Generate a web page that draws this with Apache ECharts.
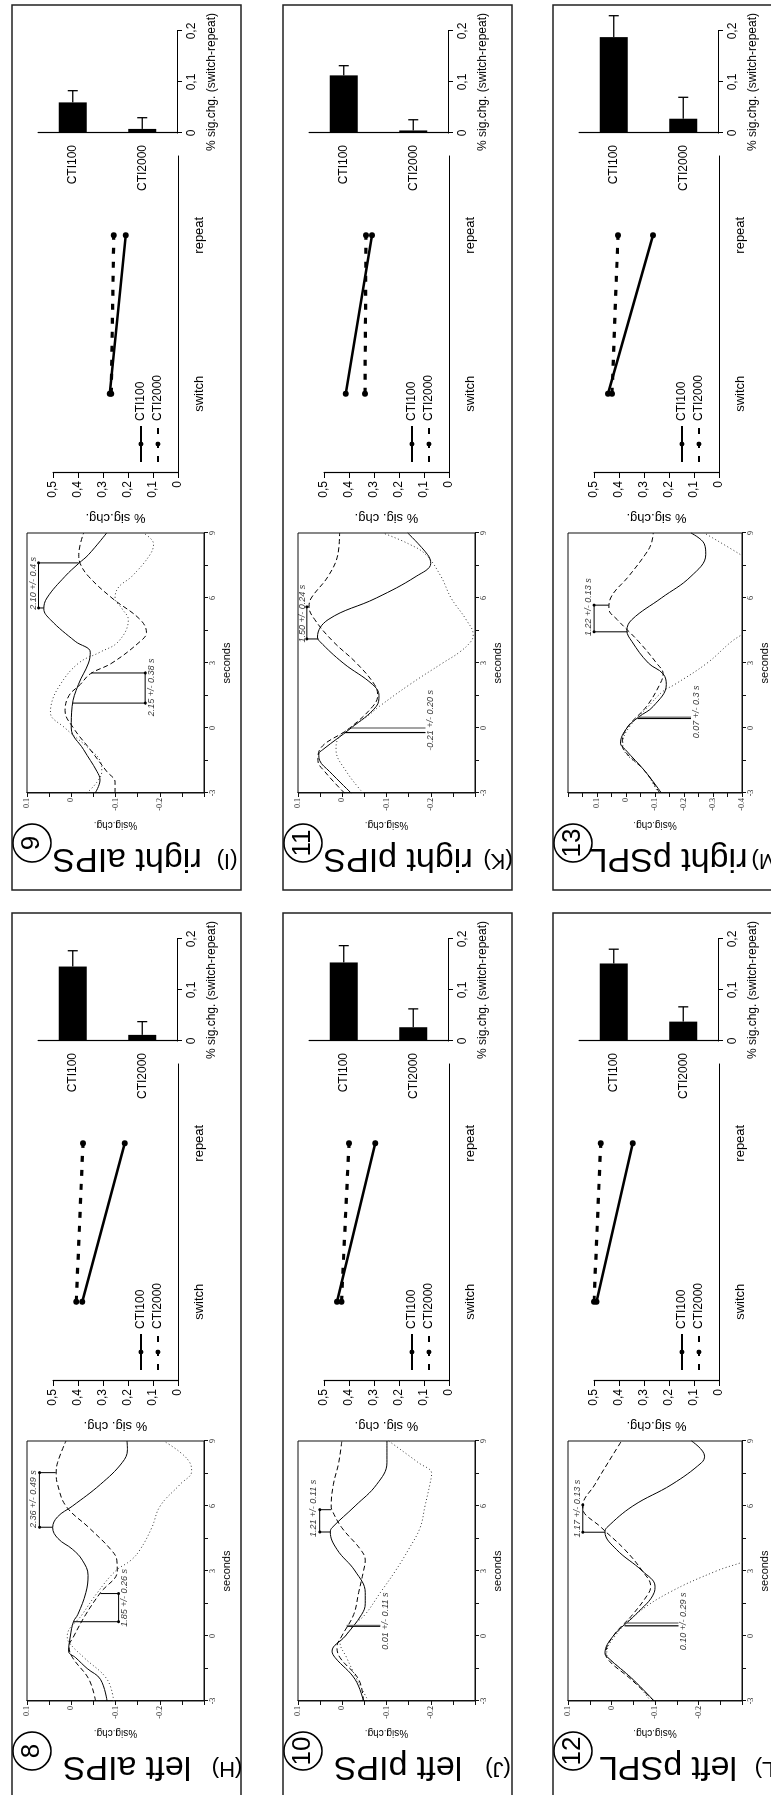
<!DOCTYPE html>
<html>
<head>
<meta charset="utf-8">
<title>Switch vs. repeat responses, CTI100 / CTI2000</title>
<script src="https://cdn.jsdelivr.net/npm/echarts@6/dist/echarts.min.js"></script>
<style>
html, body { margin:0; padding:0; width:771px; height:1795px; overflow:hidden; background:#fff; }
#frame { position:absolute; left:0; top:0; width:771px; height:1795px; overflow:hidden; }
#chart { position:absolute; left:0; top:0; width:1795px; height:771px; transform-origin:0 0; transform:translate(0px,1795px) rotate(-90deg); }
</style>
</head>
<body>
<div id="frame"><div id="chart"></div></div>
<script>
// ---------------- data ----------------
const panelNumbers = [8, 9, 10, 11, 12, 13];
const regionNames = ['left aIPS', 'right aIPS', 'left pIPS', 'right pIPS', 'left pSPL', 'right pSPL'];
const panelLetters = ['(H)', '(I)', '(J)', '(K)', '(L)', '(M)'];
const conditions = ['switch', 'repeat'];
const barCategories = ['CTI100', 'CTI2000'];
const lineTitles = ['% sig. chg.', '% sig.chg.', '% sig. chg.', '% sig. chg.', '% sig.chg.', '% sig.chg.'];
const barTitle = '% sig.chg. (switch-repeat)';
const tcTitle = '%sig.chg.';
const tcXTitle = 'seconds';

// line plots: [switch, repeat]
const lineCTI100 = [[0.383, 0.213], [0.273, 0.209], [0.448, 0.295], [0.413, 0.308], [0.49, 0.345], [0.444, 0.264]];
const lineCTI2000 = [[0.407, 0.38], [0.267, 0.257], [0.43, 0.40], [0.336, 0.332], [0.5, 0.473], [0.428, 0.404]];

// bar plots: switch-repeat difference [CTI100, CTI2000] and error
const barMeans = [[0.146, 0.012], [0.06, 0.008], [0.154, 0.027], [0.113, 0.005], [0.152, 0.038], [0.188, 0.028]];
const barErrors = [[0.031, 0.026], [0.023, 0.022], [0.033, 0.036], [0.019, 0.021], [0.028, 0.029], [0.042, 0.042]];

// time-course axis ranges
const tcMin = [-0.3, -0.3, -0.3, -0.3, -0.3, -0.4];
const tcMax = [0.1, 0.1, 0.1, 0.1, 0.1, 0.2];
const tcLabelMax = [0.1, 0.1, 0.1, 0.1, 0.1, 0.1];
const tcLabelMin = [-0.2, -0.2, -0.2, -0.2, -0.2, -0.4];

// time courses [seconds, %sig.chg.]
const tcSolid8 = [[-3,-0.081],[-2,-0.066],[-1.5,-0.036],[-1,-0.01],[-0.7,0.006],[0,0.002],[0.66,-0.005],[1,-0.015],[2,-0.033],[2.8,-0.038],[3.5,-0.025],[4,-0.003],[4.5,0.03],[5,0.042],[5.5,0.031],[6,-0.003],[7,-0.066],[8,-0.115],[8.6,-0.127],[9,-0.126]];
const tcDashed8 = [[-3,-0.055],[-2,-0.04],[-1,-0.003],[-0.5,0.005],[0,-0.006],[1,-0.033],[2,-0.066],[3,-0.104],[3.5,-0.103],[4,-0.089],[5,-0.04],[6,0.012],[7,0.031],[7.5,0.034],[8,0.031],[9,0.012]];
const tcDotted8 = [[-3,-0.096],[-2,-0.081],[-1,-0.029],[-0.3,0.005],[0,0.009],[1,-0.025],[2,-0.059],[3,-0.1],[3.5,-0.135],[4,-0.156],[5,-0.182],[6,-0.201],[7,-0.246],[7.6,-0.272],[8,-0.268],[8.5,-0.245],[9,-0.209]];

const tcSolid9 = [[-3,-0.054],[-2.4,-0.065],[-2,-0.058],[-1,-0.028],[0,0.0],[1,-0.002],[2,-0.016],[3,-0.039],[3.5,-0.043],[4,-0.009],[5,0.047],[5.5,0.062],[6,0.055],[7,0.014],[7.6,-0.017],[8,-0.039],[9,-0.08]];
const tcDashed9 = [[-3,-0.099],[-2.5,-0.099],[-2,-0.08],[-1,-0.043],[0,-0.005],[0.8,0.014],[1.5,0.005],[2,-0.02],[2.5,-0.043],[3,-0.092],[4,-0.156],[4.4,-0.17],[5,-0.156],[6,-0.092],[7,-0.039],[7.6,-0.02],[8,-0.017],[9,-0.028]];
const tcDotted9 = [[-3,-0.035],[-2.5,-0.058],[-2,-0.069],[-1.5,-0.065],[-1,-0.043],[0,0.014],[0.7,0.047],[1,0.046],[2,0.025],[3,-0.017],[3.5,-0.065],[4,-0.107],[5,-0.129],[5.5,-0.115],[6,-0.099],[6.5,-0.107],[7,-0.137],[8,-0.178],[8.5,-0.186],[9,-0.163]];

const tcSolid10 = [[-3,-0.048],[-2,-0.029],[-1,0.016],[-0.7,0.023],[0,-0.007],[1,-0.044],[1.5,-0.052],[2,-0.052],[3,-0.029],[4,0.012],[4.8,0.027],[5,0.023],[6,-0.029],[7,-0.078],[8,-0.101],[9,-0.101]];
const tcDashed10 = [[-3,-0.048],[-2,-0.037],[-1,0.005],[-0.5,0.012],[0,0.001],[1,-0.026],[2,-0.037],[3,-0.048],[3.5,-0.052],[4,-0.041],[5,0.001],[5.8,0.023],[6,0.025],[7,0.02],[8,0.008],[9,0.001]];
const tcDotted10 = [[-3,-0.059],[-2,-0.033],[-1,-0.01],[-0.3,0.005],[0,-0.007],[0.5,-0.026],[1,-0.052],[2,-0.086],[3,-0.12],[4,-0.15],[5,-0.176],[6,-0.187],[7,-0.198],[7.5,-0.202],[8,-0.172],[9,-0.105]];

const tcSolid11 = [[-3,-0.02],[-2,0.029],[-1.5,0.051],[-1.2,0.053],[-1,0.044],[0,-0.02],[1,-0.077],[1.5,-0.083],[2,-0.069],[3,-0.002],[4,0.051],[4.2,0.056],[5,0.032],[6,-0.077],[7,-0.167],[7.6,-0.2],[8,-0.193],[9,-0.148]];
const tcDashed11 = [[-3,-0.005],[-2,0.04],[-1.5,0.055],[-1,0.051],[0,-0.017],[1,-0.069],[1.5,-0.08],[2,-0.073],[3,-0.032],[4,0.021],[5,0.062],[5.6,0.075],[6,0.07],[7,0.032],[8,0.01],[9,0.006]];
const tcDotted11 = [[-3,-0.047],[-2,-0.009],[-1,0.014],[-0.5,0.01],[0,-0.017],[0.5,-0.054],[1,-0.084],[2,-0.152],[3,-0.227],[3.5,-0.265],[4,-0.291],[4.3,-0.296],[5,-0.28],[6,-0.246],[7,-0.223],[8,-0.189],[8.5,-0.15],[9,-0.092]];

const tcSolid12 = [[-3,-0.098],[-2,-0.049],[-1,0.008],[-0.8,0.015],[0,-0.004],[1,-0.056],[2,-0.098],[2.3,-0.1],[3,-0.071],[4,-0.011],[4.8,0.015],[5,0.011],[6,-0.049],[7,-0.139],[8,-0.207],[8.3,-0.214],[9,-0.184]];
const tcDashed12 = [[-3,-0.098],[-2,-0.045],[-1,0.011],[-0.8,0.013],[0,-0.004],[1,-0.049],[2,-0.086],[2.3,-0.09],[3,-0.071],[4,-0.03],[5,0.023],[5.9,0.066],[6,0.066],[7,0.038],[8,0.008],[9,-0.023]];
const tcDotted12 = [[-3,-0.09],[-2,-0.049],[-1,0.008],[-0.8,0.011],[0,-0.008],[1,-0.056],[2,-0.132],[3,-0.241],[3.4,-0.3],[4,-0.38],[5,-0.46]];

const tcSolid13 = [[-3,-0.122],[-2,-0.066],[-1,0.002],[-0.7,0.019],[0,-0.003],[0.5,-0.043],[1,-0.094],[2,-0.139],[2.5,-0.128],[3,-0.077],[4,-0.02],[4.5,-0.003],[5,-0.02],[6,-0.122],[7,-0.224],[8,-0.275],[8.5,-0.27],[9,-0.224]];
const tcDashed13 = [[-3,-0.116],[-2,-0.066],[-1,0.008],[-0.7,0.013],[0,-0.003],[1,-0.071],[2,-0.116],[2.5,-0.128],[3,-0.105],[4,-0.043],[5,0.03],[5.5,0.059],[6,0.053],[7,-0.009],[8,-0.066],[8.5,-0.087],[9,-0.094]];
const tcDotted13 = [[-3,-0.111],[-2,-0.066],[-1,0.008],[-0.7,0.011],[0,-0.009],[1,-0.077],[1.7,-0.128],[2,-0.167],[3,-0.28],[4,-0.365],[4.5,-0.42],[6,-0.55],[7.5,-0.45],[8,-0.395],[9,-0.27]];

const tcSolid = [tcSolid8, tcSolid9, tcSolid10, tcSolid11, tcSolid12, tcSolid13];
const tcDashed = [tcDashed8, tcDashed9, tcDashed10, tcDashed11, tcDashed12, tcDashed13];
const tcDotted = [tcDotted8, tcDotted9, tcDotted10, tcDotted11, tcDotted12, tcDotted13];

// latency annotations: [t1, curve value at t1, t2, curve value at t2, bracket value]
const upperBrackets = [[5.02,0.042,7.54,0.035,0.072],[5.54,0.062,7.62,-0.017,0.074],[4.8,0.027,5.83,0.025,0.051],[4.11,0.054,5.59,0.075,0.08],[4.79,0.015,6.05,0.066,0.066],[4.44,-0.005,5.67,0.059,0.11]];
const upperTexts = ['2.36 +/- 0.49 s', '2.10 +/- 0.4 s', '1.21 +/- 0.11 s', '1.50 +/- 0.24 s', '1.17 +/- 0.13 s', '1.22 +/- 0.13 s'];
const upperTextAt = [[4.98,0.085],[5.46,0.086],[4.57,0.065],[3.95,0.09],[4.55,0.079],[4.25,0.13]];
const lowerBrackets = [[0.66,-0.005,1.96,-0.066,-0.107],[1.15,-0.003,2.54,-0.045,-0.167],[0.45,-0.01,0.49,-0.01,-0.086],[-0.21,-0.005,0.0,-0.02,-0.188],[0.47,-0.03,0.6,-0.035,-0.154],[0.44,-0.04,0.5,-0.045,-0.224]];
const lowerTexts = ['1.85 +/- 0.26 s', '2.15 +/- 0.38 s', '0.01 +/- 0.11 s', '-0.21 +/- 0.20 s', '0.10 +/- 0.29 s', '0.07 +/- 0.3 s'];
const lowerTextAt = [[0.43,-0.12],[0.54,-0.182],[-0.63,-0.098],[-1.05,-0.2],[-0.66,-0.165],[-0.47,-0.244]];
const lowerIsDouble = [false, false, true, true, true, true];

// ---------------- layout (page drawn in landscape, then turned) ----------------
const SANS = "'Liberation Sans', Arial, Helvetica, sans-serif";
const SERIF = "'Liberation Serif', 'Times New Roman', serif";
const PW = 885, PH = 229;
const panelOrigins = [[-3, 12], [905, 12], [-3, 283], [905, 283], [-3, 553], [905, 553]];

const commaFmt = v => (Math.abs(v) < 1e-9 ? '0' : v.toFixed(1).replace('.', ','));
const tcValueFmt = i => v => {
  const k = Math.round(v * 100);
  if (k % 10 !== 0) return '';
  if (v > tcLabelMax[i] + 1e-9 || v < tcLabelMin[i] - 1e-9) return '';
  return k === 0 ? '0' : (k / 100).toFixed(1);
};
const tcTimeFmt = v => (Math.round(v * 10) % 30 === 0 ? String(Math.round(v)) : '');

const grid = [], xAxis = [], yAxis = [], series = [], legend = [], graphic = [];
const black = '#000';

panelNumbers.forEach((num, i) => {
  const [u0, v0] = panelOrigins[i];

  // ---- time course ----
  const g0 = grid.length;
  grid.push({ left: u0 + 97, top: v0 + 15, width: 260, height: 177, show: true, borderColor: '#111', borderWidth: 1, backgroundColor: 'transparent' });
  xAxis.push({
    type: 'value', gridIndex: g0, min: -3, max: 9, interval: 1.5,
    axisLine: { show: true, onZero: false, lineStyle: { color: '#111', width: 1 } },
    axisTick: { show: true, length: 4, lineStyle: { color: '#111' } },
    splitLine: { show: false },
    axisLabel: { formatter: tcTimeFmt, fontSize: 8, fontFamily: SERIF, color: '#222', margin: 5, showMinLabel: true, showMaxLabel: true },
    name: tcXTitle, nameLocation: 'middle', nameGap: 17, nameTextStyle: { fontSize: 11, fontFamily: SANS, color: black }
  });
  yAxis.push({
    type: 'value', gridIndex: g0, min: tcMin[i], max: tcMax[i], interval: 0.05,
    axisLine: { show: true, onZero: false, lineStyle: { color: '#111', width: 1 } },
    axisTick: { show: true, length: 4, lineStyle: { color: '#111' } },
    splitLine: { show: false },
    axisLabel: { formatter: tcValueFmt(i), fontSize: 8, fontFamily: SERIF, color: '#222', margin: 5, showMinLabel: true, showMaxLabel: true },
    name: tcTitle, nameLocation: 'middle', nameRotate: 90, nameGap: 27, nameTextStyle: { fontSize: 10, fontFamily: SANS, color: black }
  });
  const tcBase = { type: 'line', xAxisIndex: g0, yAxisIndex: g0, smooth: 0.4, symbol: 'none', silent: true, clip: true, z: 3 };
  series.push(Object.assign({ name: 'solid ' + num, data: tcSolid[i], lineStyle: { color: black, width: 1 } }, tcBase));
  series.push(Object.assign({ name: 'dashed ' + num, data: tcDashed[i], lineStyle: { color: black, width: 1, type: [5, 3] } }, tcBase));
  series.push(Object.assign({ name: 'dotted ' + num, data: tcDotted[i], lineStyle: { color: '#333', width: 1, type: [1, 2.5] } }, tcBase));

  const dot = { symbol: 'circle', symbolSize: 3 };
  const [a1, c1, a2, c2, ab] = upperBrackets[i];
  series.push({ name: 'upper bracket ' + num, type: 'line', xAxisIndex: g0, yAxisIndex: g0, symbol: 'none', silent: true, z: 4,
    lineStyle: { color: black, width: 1 }, itemStyle: { color: black },
    data: [[a1, c1], Object.assign({ value: [a1, ab] }, dot), Object.assign({ value: [a2, ab] }, dot), [a2, c2]] });
  const [b1, d1, b2, d2, bb] = lowerBrackets[i];
  if (lowerIsDouble[i]) {
    series.push({ name: 'lower a ' + num, type: 'line', xAxisIndex: g0, yAxisIndex: g0, symbol: 'none', silent: true, z: 4,
      lineStyle: { color: black, width: 1.2 }, data: [[b1, d1], [b1, bb]] });
    series.push({ name: 'lower b ' + num, type: 'line', xAxisIndex: g0, yAxisIndex: g0, symbol: 'none', silent: true, z: 4,
      lineStyle: { color: '#666', width: 1.2 }, data: [[b2, d2], [b2, bb]] });
  } else {
    series.push({ name: 'lower bracket ' + num, type: 'line', xAxisIndex: g0, yAxisIndex: g0, symbol: 'none', silent: true, z: 4,
      lineStyle: { color: black, width: 1 }, itemStyle: { color: black },
      data: [[b1, d1], Object.assign({ value: [b1, bb] }, dot), Object.assign({ value: [b2, bb] }, dot), [b2, d2]] });
  }
  series.push({ name: 'latency text ' + num, type: 'scatter', xAxisIndex: g0, yAxisIndex: g0, symbolSize: 0, silent: true, z: 5,
    label: { show: true, position: 'right', distance: 0, formatter: p => p.name, fontSize: 9, fontStyle: 'italic', fontFamily: SANS, color: black },
    data: [{ name: upperTexts[i], value: upperTextAt[i] }, { name: lowerTexts[i], value: lowerTextAt[i] }] });

  // ---- switch / repeat line plot ----
  const g1 = grid.length;
  grid.push({ left: u0 + 417, top: v0 + 41, width: 317, height: 125 });
  xAxis.push({
    type: 'category', gridIndex: g1, data: conditions, boundaryGap: true,
    axisLine: { show: true, onZero: false, lineStyle: { color: black, width: 1.2 } },
    axisTick: { show: false }, splitLine: { show: false },
    axisLabel: { fontSize: 13, fontFamily: SANS, color: black, margin: 15 }
  });
  yAxis.push({
    type: 'value', gridIndex: g1, min: 0, max: 0.5, interval: 0.1,
    axisLine: { show: true, onZero: false, lineStyle: { color: black, width: 1.2 } },
    axisTick: { show: true, length: 5, lineStyle: { color: black } },
    splitLine: { show: false },
    axisLabel: { formatter: commaFmt, fontSize: 12, fontFamily: SANS, color: black, margin: 8 },
    name: lineTitles[i], nameLocation: 'middle', nameRotate: 90, nameGap: 38, nameTextStyle: { fontSize: 13, fontFamily: SANS, color: black }
  });
  series.push({ name: 'CTI100', type: 'line', xAxisIndex: g1, yAxisIndex: g1, data: lineCTI100[i],
    symbol: 'circle', symbolSize: 6, lineStyle: { color: black, width: 2.6 }, itemStyle: { color: black }, z: 3 });
  series.push({ name: 'CTI2000', type: 'line', xAxisIndex: g1, yAxisIndex: g1, data: lineCTI2000[i],
    symbol: 'circle', symbolSize: 6, lineStyle: { color: black, width: 3.2, type: [6, 8] }, itemStyle: { color: black }, z: 3 });
  legend.push({ left: u0 + 427, top: v0 + 123, orient: 'vertical', itemWidth: 36, itemHeight: 6, itemGap: 5, padding: 0,
    selectedMode: false, data: ['CTI100', 'CTI2000'], textStyle: { fontSize: 12, fontFamily: SANS, color: black } });

  // ---- difference bar plot ----
  const g2 = grid.length;
  grid.push({ left: u0 + 757, top: v0 + 26, width: 102, height: 139 });
  xAxis.push({
    type: 'value', gridIndex: g2, min: 0, max: 0.2, interval: 0.1,
    axisLine: { show: true, onZero: false, lineStyle: { color: black, width: 1.2 } },
    axisTick: { show: true, length: 5, lineStyle: { color: black } },
    splitLine: { show: false },
    axisLabel: { formatter: commaFmt, fontSize: 12, fontFamily: SANS, color: black, margin: 9 },
    name: barTitle, nameLocation: 'middle', nameGap: 29, nameTextStyle: { fontSize: 12, fontFamily: SANS, color: black }
  });
  yAxis.push({
    type: 'category', gridIndex: g2, data: barCategories, inverse: true,
    axisLine: { show: true, onZero: false, lineStyle: { color: black, width: 1.2 } },
    axisTick: { show: false }, splitLine: { show: false },
    axisLabel: { fontSize: 12, fontFamily: SANS, color: black, margin: 12 }
  });
  series.push({ name: 'difference ' + num, type: 'bar', xAxisIndex: g2, yAxisIndex: g2, data: barMeans[i], barWidth: 28,
    itemStyle: { color: black }, silent: true });
  series.push({ name: 'error ' + num, type: 'custom', xAxisIndex: g2, yAxisIndex: g2, silent: true, z: 4,
    encode: { x: 1, y: 0 },
    data: barCategories.map((c, j) => [j, barMeans[i][j], barErrors[i][j]]),
    renderItem: (params, api) => {
      const cat = api.value(0), m = api.value(1), e = api.value(2);
      const p0 = api.coord([m, cat]), p1 = api.coord([m + e, cat]);
      const st = { stroke: black, lineWidth: 1.3 };
      return { type: 'group', children: [
        { type: 'line', shape: { x1: p0[0], y1: p0[1], x2: p1[0], y2: p1[1] }, style: st },
        { type: 'line', shape: { x1: p1[0], y1: p1[1] - 5, x2: p1[0], y2: p1[1] + 5 }, style: st }
      ] };
    } });

  // ---- frame and panel label ----
  graphic.push({ type: 'rect', silent: true, shape: { x: u0, y: v0, width: PW, height: PH }, style: { fill: 'none', stroke: '#222', lineWidth: 1.5 } });
  graphic.push({ type: 'circle', silent: true, shape: { cx: u0 + 47, cy: v0 + 20, r: 19 }, style: { fill: 'none', stroke: black, lineWidth: 1.6 } });
  graphic.push({ type: 'text', silent: true, x: u0 + 47, y: v0 + 20,
    style: { text: String(num), fontSize: 26, fontFamily: SANS, fill: black, align: 'center', verticalAlign: 'middle', textAlign: 'center', textVerticalAlign: 'middle' } });
  graphic.push({ type: 'text', silent: true, x: u0 + 32, y: v0 + 115, rotation: Math.PI / 2,
    style: { text: regionNames[i], fontSize: 34, fontFamily: SANS, fill: black, align: 'center', verticalAlign: 'middle', textAlign: 'center', textVerticalAlign: 'middle' } });
  graphic.push({ type: 'text', silent: true, x: u0 + 30, y: v0 + 215, rotation: Math.PI / 2,
    style: { text: panelLetters[i], fontSize: 22, fontFamily: SANS, fill: black, align: 'center', verticalAlign: 'middle', textAlign: 'center', textVerticalAlign: 'middle' } });
});

const chart = echarts.init(document.getElementById('chart'), null, { renderer: 'canvas', width: 1795, height: 771 });
chart.setOption({
  animation: false,
  backgroundColor: '#fff',
  textStyle: { fontFamily: SANS },
  grid, xAxis, yAxis, series, legend, graphic
});
</script>
</body>
</html>
